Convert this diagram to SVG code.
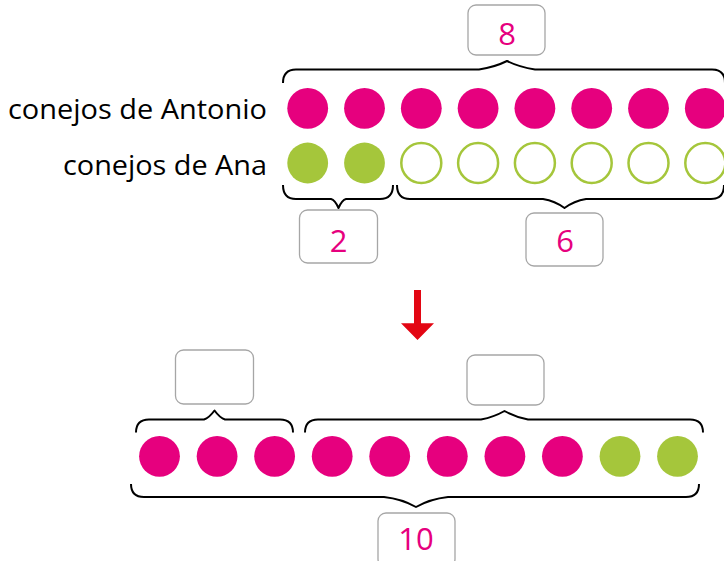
<svg xmlns="http://www.w3.org/2000/svg" width="724" height="561" viewBox="0 0 724 561">
<style>
.m{fill:#e6007e}
.g{fill:#a5c63b}
.o{fill:none;stroke:#a5c63b;stroke-width:2.5}
.box{fill:#fff;stroke:#a6a6a6;stroke-width:1.3}
.num{font-family:"Open Sans","Liberation Sans",Arial,sans-serif;font-size:31px;fill:#e6007e;text-anchor:middle}
.lbl{font-family:"Open Sans","Liberation Sans",Arial,sans-serif;font-size:27px;fill:#000;text-anchor:end}
.br{fill:none;stroke:#000;stroke-width:2;stroke-linejoin:round}
</style>
<rect width="724" height="561" fill="#fff"/>
<g id="labels">
<text class="lbl" x="267" y="119" textLength="259" lengthAdjust="spacingAndGlyphs">conejos de Antonio</text>
<text class="lbl" x="267" y="175" textLength="204" lengthAdjust="spacingAndGlyphs">conejos de Ana</text>
</g>
<g id="row-antonio">
<circle class="m" cx="307.7" cy="108.3" r="20.4"/>
<circle class="m" cx="364.5" cy="108.3" r="20.4"/>
<circle class="m" cx="421.3" cy="108.3" r="20.4"/>
<circle class="m" cx="478.1" cy="108.3" r="20.4"/>
<circle class="m" cx="534.9" cy="108.3" r="20.4"/>
<circle class="m" cx="591.7" cy="108.3" r="20.4"/>
<circle class="m" cx="648.5" cy="108.3" r="20.4"/>
<circle class="m" cx="705.3" cy="108.3" r="20.4"/>
</g>
<g id="row-ana">
<circle class="g" cx="307.7" cy="163" r="20.4"/>
<circle class="g" cx="364.5" cy="163" r="20.4"/>
<circle class="o" cx="421.3" cy="163" r="20"/>
<circle class="o" cx="478.1" cy="163" r="20"/>
<circle class="o" cx="534.9" cy="163" r="20"/>
<circle class="o" cx="591.7" cy="163" r="20"/>
<circle class="o" cx="648.5" cy="163" r="20"/>
<circle class="o" cx="705.3" cy="163" r="20"/>
</g>
<g id="row-bottom">
<circle class="m" cx="159.5" cy="456.3" r="20.4"/>
<circle class="m" cx="217.1" cy="456.3" r="20.4"/>
<circle class="m" cx="274.6" cy="456.3" r="20.4"/>
<circle class="m" cx="332.2" cy="456.3" r="20.4"/>
<circle class="m" cx="389.7" cy="456.3" r="20.4"/>
<circle class="m" cx="447.3" cy="456.3" r="20.4"/>
<circle class="m" cx="504.9" cy="456.3" r="20.4"/>
<circle class="m" cx="562.4" cy="456.3" r="20.4"/>
<circle class="g" cx="620" cy="456.3" r="20.4"/>
<circle class="g" cx="677.5" cy="456.3" r="20.4"/>
</g>
<g id="box-8"><rect class="box" x="468" y="5" width="77" height="50" rx="8"/><text class="num" x="507" y="44.5">8</text></g>
<g id="box-2"><rect class="box" x="299.5" y="210" width="78" height="53" rx="8"/><text class="num" x="338.5" y="251.5">2</text></g>
<g id="box-6"><rect class="box" x="526" y="213" width="77" height="53" rx="8"/><text class="num" x="565" y="251.5">6</text></g>
<g id="box-left-empty"><rect class="box" x="175.5" y="350" width="78" height="54" rx="8"/></g>
<g id="box-right-empty"><rect class="box" x="467" y="355" width="77" height="50" rx="8"/></g>
<g id="box-10"><rect class="box" x="378" y="513" width="77" height="54" rx="8"/><text class="num" x="416" y="549.5">10</text></g>
<g id="connectors">
<path class="br" d="M283,83 Q283,69.5 296,69.5 L479,69.5 Q495,67 507,61 Q519,67 535,69.5 L712,69.5 Q725,69.5 725,83"/>
<path class="br" d="M283,185 Q283,199 296,199 L331,199 Q335,200 338.5,208 Q342,200 346,199 L380,199 Q393,199 393,185"/>
<path class="br" d="M397,185 Q397,199 410,199 L543,199 Q555,201 564.5,208 Q574,201 586,199 L711,199 Q724,199 724,185"/>
<path class="br" d="M136,432.5 Q136,419.5 149,419.5 L204,419.5 Q209,418 214.5,410.5 Q220,418 225,419.5 L280,419.5 Q293,419.5 293,432.5"/>
<path class="br" d="M305,432.5 Q305,419.5 318,419.5 L481,419.5 Q494,417 504.5,411 Q515,417 528,419.5 L690,419.5 Q703,419.5 703,432.5"/>
<path class="br" d="M131,484 Q131,497 144,497 L384,497 Q402,499 416,507 Q430,499 448,497 L686,497 Q699,497 699,484"/>
<path fill="#e30613" d="M414,290 L421,290 L421,323.3 L434,323.3 L417.5,340 L401,323.3 L414,323.3 Z"/>
</g>
</svg>
